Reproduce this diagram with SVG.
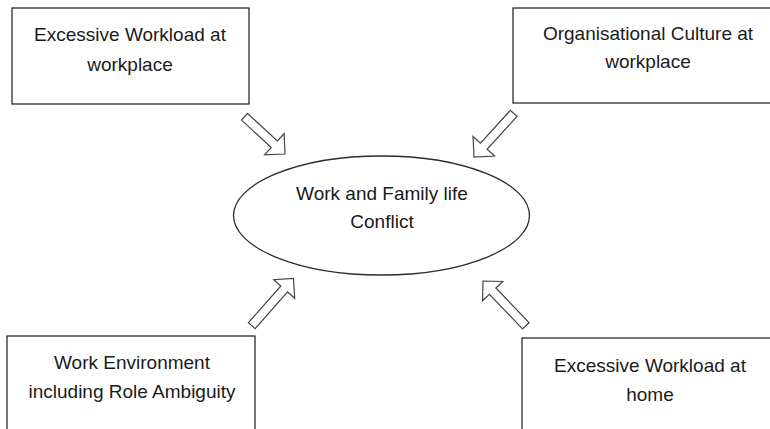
<svg xmlns="http://www.w3.org/2000/svg" width="770" height="429" viewBox="0 0 770 429">
<style>
  .box { fill: #ffffff; stroke: #2b2b2b; stroke-width: 1.3; }
  .ell { fill: #ffffff; stroke: #2b2b2b; stroke-width: 1.3; }
  .arr { fill: #ffffff; stroke: #444444; stroke-width: 1.2; stroke-linejoin: miter; }
  .t { font-family: "Liberation Sans", Arial, sans-serif; font-size: 19px; fill: #1a1a1a; text-anchor: middle; }
</style>
<rect x="0" y="0" width="770" height="429" fill="#ffffff"/>
<g id="connectors">
  <polygon class="arr" transform="translate(285,154) rotate(42.6)" points="-55,-4.5 -14.5,-4.5 -14.5,-14.5 0,0 -14.5,14.5 -14.5,4.5 -55,4.5"/>
  <polygon class="arr" transform="translate(474,157) rotate(132.3)" points="-59,-4.5 -14.5,-4.5 -14.5,-14.5 0,0 -14.5,14.5 -14.5,4.5 -59,4.5"/>
  <polygon class="arr" transform="translate(293.5,278.5) rotate(-48.5)" points="-63,-4.5 -14,-4.5 -14,-14 0,0 -14,14 -14,4.5 -63,4.5"/>
  <polygon class="arr" transform="translate(483,281) rotate(-133.7)" points="-62,-4.5 -14,-4.5 -14,-14 0,0 -14,14 -14,4.5 -62,4.5"/>
</g>
<g id="node-workload-workplace">
  <rect class="box" x="12" y="8" width="237" height="96"/>
  <text class="t" x="130" y="41">Excessive Workload at</text>
  <text class="t" x="130" y="71">workplace</text>
</g>
<g id="node-culture">
  <rect class="box" x="513" y="8" width="270" height="95"/>
  <text class="t" x="648" y="40">Organisational Culture at</text>
  <text class="t" x="648" y="68">workplace</text>
</g>
<g id="node-conflict">
  <ellipse class="ell" cx="381.5" cy="215.5" rx="148" ry="59.5"/>
  <text class="t" x="382" y="200">Work and Family life</text>
  <text class="t" x="382" y="228">Conflict</text>
</g>
<g id="node-environment">
  <rect class="box" x="7" y="336" width="248" height="110"/>
  <text class="t" x="132" y="369">Work Environment</text>
  <text class="t" x="132" y="398">including Role Ambiguity</text>
</g>
<g id="node-workload-home">
  <rect class="box" x="522" y="338" width="260" height="110"/>
  <text class="t" x="650" y="372">Excessive Workload at</text>
  <text class="t" x="650" y="401">home</text>
</g>
</svg>
